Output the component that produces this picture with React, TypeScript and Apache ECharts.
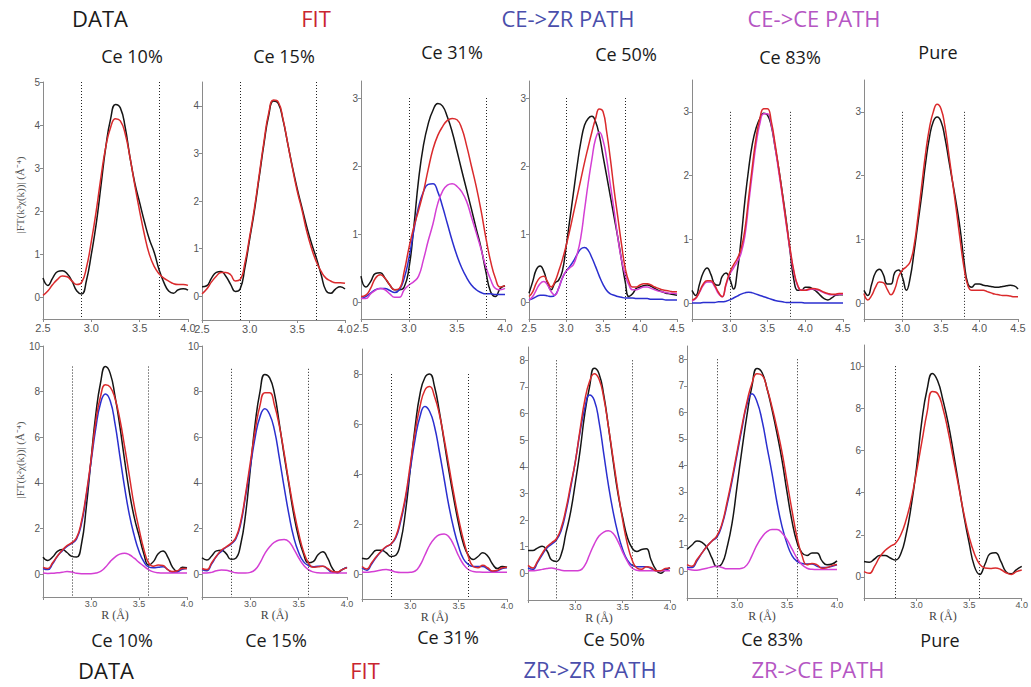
import React, { useEffect, useRef } from "react";
import * as echarts from "echarts";

// ---------- x grids (R, Å) ----------
const R_TO_40 = [2.50, 2.55, 2.60, 2.65, 2.70, 2.75, 2.80, 2.85, 2.90, 2.95, 3.00, 3.05, 3.10, 3.15, 3.20, 3.25, 3.30, 3.35, 3.40, 3.45, 3.50, 3.55, 3.60, 3.65, 3.70, 3.75, 3.80, 3.85, 3.90, 3.95, 4.00];
const R_TO_45 = [2.50, 2.55, 2.60, 2.65, 2.70, 2.75, 2.80, 2.85, 2.90, 2.95, 3.00, 3.05, 3.10, 3.15, 3.20, 3.25, 3.30, 3.35, 3.40, 3.45, 3.50, 3.55, 3.60, 3.65, 3.70, 3.75, 3.80, 3.85, 3.90, 3.95, 4.00, 4.05, 4.10, 4.15, 4.20, 4.25, 4.30, 4.35, 4.40, 4.45, 4.50];

// ---------- top row: Ce K-edge (k3) ----------
const CE10_DATA = [0.45, 0.28, 0.45, 0.6, 0.62, 0.55, 0.38, 0.15, 0.08, 0.4, 1.0, 1.7, 2.6, 3.5, 4.15, 4.48, 4.4, 3.95, 3.25, 2.65, 2.2, 1.75, 1.35, 1.05, 0.65, 0.35, 0.15, 0.1, 0.18, 0.2, 0.17];
const CE10_FIT = [0.05, 0.15, 0.3, 0.42, 0.5, 0.48, 0.38, 0.3, 0.35, 0.7, 1.3, 2.0, 2.8, 3.5, 3.95, 4.15, 4.1, 3.8, 3.25, 2.6, 2.0, 1.45, 1.0, 0.72, 0.55, 0.45, 0.38, 0.32, 0.3, 0.3, 0.28];

const CE15_DATA = [0.2, 0.22, 0.38, 0.5, 0.52, 0.42, 0.25, 0.1, 0.15, 0.6, 1.2, 1.8, 2.5, 3.2, 3.8, 4.1, 4.05, 3.7, 3.2, 2.7, 2.25, 1.85, 1.45, 1.1, 0.8, 0.45, 0.12, 0.06, 0.15, 0.2, 0.15];
const CE15_FIT = [0.05, 0.15, 0.3, 0.42, 0.5, 0.5, 0.45, 0.32, 0.35, 0.7, 1.25, 1.85, 2.55, 3.25, 3.85, 4.12, 4.08, 3.72, 3.2, 2.68, 2.2, 1.8, 1.35, 1.0, 0.72, 0.52, 0.38, 0.32, 0.28, 0.28, 0.27];

const CE31_DATA = [0.38, 0.22, 0.3, 0.42, 0.43, 0.35, 0.25, 0.18, 0.18, 0.22, 0.5, 1.1, 1.8, 2.3, 2.62, 2.82, 2.92, 2.88, 2.72, 2.5, 2.22, 1.93, 1.65, 1.37, 1.08, 0.8, 0.45, 0.15, 0.08, 0.2, 0.24];
const CE31_FIT = [0.08, 0.1, 0.2, 0.35, 0.4, 0.35, 0.25, 0.18, 0.2, 0.45, 0.8, 1.1, 1.35, 1.62, 1.95, 2.25, 2.45, 2.58, 2.67, 2.7, 2.68, 2.55, 2.3, 2.0, 1.7, 1.35, 0.95, 0.6, 0.35, 0.22, 0.24];
const CE31_CEZR = [0.05, 0.08, 0.13, 0.18, 0.2, 0.2, 0.17, 0.14, 0.18, 0.35, 0.65, 1.05, 1.4, 1.62, 1.73, 1.74, 1.62, 1.4, 1.15, 0.9, 0.68, 0.5, 0.36, 0.25, 0.18, 0.14, 0.12, 0.12, 0.11, 0.11, 0.11];
const CE31_CECE = [0.05, 0.05, 0.12, 0.17, 0.2, 0.18, 0.12, 0.07, 0.07, 0.18, 0.25, 0.3, 0.38, 0.62, 0.9, 1.15, 1.45, 1.63, 1.72, 1.74, 1.7, 1.62, 1.48, 1.25, 1.02, 0.78, 0.52, 0.33, 0.2, 0.18, 0.2];

const CE50_DATA = [0.13, 0.3, 0.48, 0.53, 0.45, 0.28, 0.18, 0.28, 0.32, 0.45, 0.8, 1.2, 1.6, 2.0, 2.35, 2.6, 2.7, 2.73, 2.65, 2.45, 2.15, 1.85, 1.55, 1.25, 0.95, 0.62, 0.3, 0.08, 0.12, 0.2, 0.22, 0.24, 0.25, 0.23, 0.2, 0.17, 0.15, 0.13, 0.12, 0.11, 0.1];
const CE50_FIT = [0.08, 0.15, 0.28, 0.36, 0.38, 0.3, 0.22, 0.3, 0.45, 0.62, 0.82, 1.05, 1.3, 1.55, 1.8, 2.05, 2.28, 2.5, 2.7, 2.84, 2.8, 2.5, 2.1, 1.65, 1.25, 0.85, 0.5, 0.3, 0.22, 0.22, 0.25, 0.27, 0.27, 0.25, 0.22, 0.2, 0.18, 0.17, 0.16, 0.15, 0.15];
const CE50_CEZR = [0.03, 0.05, 0.08, 0.1, 0.1, 0.09, 0.08, 0.1, 0.2, 0.35, 0.45, 0.52, 0.6, 0.7, 0.78, 0.8, 0.76, 0.65, 0.52, 0.38, 0.26, 0.17, 0.12, 0.1, 0.08, 0.07, 0.06, 0.06, 0.06, 0.05, 0.05, 0.05, 0.05, 0.04, 0.04, 0.04, 0.04, 0.03, 0.03, 0.03, 0.03];
const CE50_CECE = [0.03, 0.08, 0.18, 0.27, 0.3, 0.25, 0.15, 0.1, 0.2, 0.35, 0.45, 0.5, 0.55, 0.7, 0.95, 1.35, 1.75, 2.1, 2.4, 2.5, 2.38, 2.1, 1.72, 1.35, 0.95, 0.62, 0.4, 0.25, 0.18, 0.18, 0.2, 0.22, 0.22, 0.2, 0.18, 0.16, 0.15, 0.14, 0.13, 0.13, 0.12];

const CE83_DATA = [0.2, 0.12, 0.3, 0.48, 0.55, 0.45, 0.3, 0.28, 0.42, 0.47, 0.38, 0.22, 0.5, 1.0, 1.6, 2.1, 2.5, 2.75, 2.9, 2.98, 2.95, 2.78, 2.45, 2.1, 1.7, 1.28, 0.8, 0.36, 0.2, 0.2, 0.25, 0.25, 0.22, 0.18, 0.12, 0.07, 0.05, 0.08, 0.12, 0.13, 0.13];
const CE83_FIT = [0.05, 0.08, 0.18, 0.3, 0.35, 0.35, 0.28, 0.17, 0.1, 0.3, 0.48, 0.6, 0.7, 0.85, 1.15, 1.65, 2.15, 2.6, 2.9, 3.05, 3.05, 2.85, 2.5, 2.1, 1.68, 1.25, 0.85, 0.5, 0.28, 0.2, 0.2, 0.22, 0.23, 0.22, 0.2, 0.17, 0.15, 0.14, 0.14, 0.15, 0.15];
const CE83_CEZR = [0, 0, 0, 0.01, 0.01, 0.01, 0.01, 0.02, 0.02, 0.03, 0.05, 0.08, 0.11, 0.14, 0.16, 0.17, 0.16, 0.14, 0.12, 0.1, 0.08, 0.06, 0.04, 0.03, 0.02, 0.01, 0.01, 0.01, 0.01, 0.01, 0, 0, 0, 0, 0, 0, 0, 0, 0, 0, 0];
const CE83_CECE = [0.03, 0.07, 0.17, 0.28, 0.33, 0.33, 0.26, 0.15, 0.1, 0.28, 0.45, 0.55, 0.65, 0.78, 1.05, 1.55, 2.05, 2.5, 2.82, 2.97, 2.97, 2.8, 2.45, 2.05, 1.65, 1.22, 0.82, 0.48, 0.27, 0.2, 0.2, 0.21, 0.22, 0.21, 0.19, 0.16, 0.14, 0.13, 0.13, 0.14, 0.14];

const CEPURE_DATA = [0.2, 0.12, 0.3, 0.48, 0.53, 0.45, 0.3, 0.3, 0.48, 0.52, 0.4, 0.2, 0.4, 0.8, 1.25, 1.7, 2.2, 2.6, 2.85, 2.92, 2.85, 2.6, 2.25, 1.9, 1.55, 1.15, 0.65, 0.3, 0.25, 0.3, 0.3, 0.28, 0.27, 0.26, 0.25, 0.25, 0.26, 0.27, 0.28, 0.27, 0.22];
const CEPURE_FIT = [0.15, 0.05, 0.12, 0.25, 0.33, 0.32, 0.22, 0.13, 0.22, 0.42, 0.52, 0.57, 0.65, 0.9, 1.35, 1.85, 2.35, 2.75, 3.0, 3.12, 3.05, 2.78, 2.35, 1.9, 1.45, 0.98, 0.55, 0.27, 0.2, 0.2, 0.2, 0.2, 0.18, 0.16, 0.14, 0.13, 0.12, 0.12, 0.11, 0.1, 0.1];

// ---------- bottom row: Zr K-edge (k2) ----------
const ZR10_DATA = [0.75, 0.6, 0.75, 1.0, 1.08, 0.95, 0.78, 0.75, 1.3, 2.9, 5.0, 7.0, 8.4, 9.1, 8.8, 7.8, 6.5, 5.0, 3.6, 2.5, 1.7, 0.9, 0.4, 0.55, 0.9, 1.02, 0.75, 0.3, 0.12, 0.3, 0.28];
const ZR10_FIT = [0.3, 0.25, 0.5, 0.8, 1.05, 1.25, 1.38, 1.6, 2.3, 3.5, 5.0, 6.7, 7.8, 8.3, 8.2, 7.7, 6.8, 5.6, 4.3, 3.0, 2.0, 1.1, 0.5, 0.35, 0.4, 0.38, 0.2, 0.12, 0.15, 0.25, 0.25];
const ZR10_ZRZR = [0.25, 0.2, 0.45, 0.78, 1.02, 1.22, 1.35, 1.55, 2.2, 3.4, 4.9, 6.4, 7.5, 7.9, 7.6, 6.6, 5.2, 3.8, 2.6, 1.7, 1.0, 0.55, 0.32, 0.28, 0.3, 0.33, 0.2, 0.08, 0.1, 0.22, 0.25];
const ZR10_ZRCE = [0.05, 0.03, 0.04, 0.06, 0.08, 0.12, 0.1, 0.04, 0.02, 0.02, 0.02, 0.05, 0.12, 0.3, 0.55, 0.75, 0.88, 0.92, 0.85, 0.7, 0.52, 0.35, 0.2, 0.1, 0.06, 0.05, 0.05, 0.05, 0.05, 0.05, 0.05];

const ZR15_DATA = [0.72, 0.62, 0.8, 1.02, 1.05, 0.9, 0.65, 0.7, 1.3, 2.6, 4.6, 6.6, 8.0, 8.75, 8.6, 7.9, 6.6, 5.2, 3.9, 2.6, 1.6, 0.9, 0.5, 0.55, 0.85, 0.98, 0.7, 0.25, 0.05, 0.2, 0.3];
const ZR15_FIT = [0.25, 0.2, 0.5, 0.8, 1.05, 1.2, 1.35, 1.6, 2.3, 3.5, 4.9, 6.3, 7.4, 7.95, 7.95, 7.4, 6.5, 5.3, 4.0, 2.8, 1.8, 1.0, 0.5, 0.3, 0.32, 0.35, 0.25, 0.12, 0.1, 0.2, 0.28];
const ZR15_ZRZR = [0.2, 0.15, 0.45, 0.78, 1.0, 1.18, 1.32, 1.55, 2.2, 3.4, 4.7, 6.0, 6.9, 7.25, 7.0, 6.3, 5.1, 3.8, 2.6, 1.6, 0.95, 0.55, 0.38, 0.33, 0.35, 0.35, 0.22, 0.08, 0.08, 0.2, 0.3];
const ZR15_ZRCE = [0.05, 0.05, 0.08, 0.15, 0.18, 0.17, 0.12, 0.06, 0.05, 0.05, 0.08, 0.2, 0.5, 0.9, 1.2, 1.4, 1.5, 1.52, 1.42, 1.1, 0.72, 0.4, 0.2, 0.1, 0.06, 0.05, 0.05, 0.05, 0.05, 0.05, 0.05];

const ZR31_DATA = [0.63, 0.6, 0.78, 0.95, 0.95, 0.85, 0.7, 0.75, 1.3, 2.5, 4.2, 5.9, 7.2, 7.85, 8.0, 7.5, 6.5, 5.3, 4.1, 3.0, 2.0, 1.2, 0.75, 0.58, 0.7, 0.85, 0.72, 0.4, 0.22, 0.3, 0.27];
const ZR31_FIT = [0.3, 0.2, 0.45, 0.7, 0.92, 1.1, 1.2, 1.5, 2.2, 3.1, 4.4, 5.7, 6.7, 7.35, 7.5, 7.1, 6.4, 5.4, 4.3, 3.2, 2.2, 1.35, 0.7, 0.3, 0.25, 0.35, 0.25, 0.12, 0.15, 0.25, 0.27];
const ZR31_ZRZR = [0.25, 0.15, 0.4, 0.68, 0.9, 1.08, 1.2, 1.45, 2.1, 3.0, 4.2, 5.4, 6.3, 6.7, 6.5, 5.9, 4.9, 3.8, 2.7, 1.8, 1.1, 0.6, 0.38, 0.3, 0.3, 0.3, 0.2, 0.1, 0.12, 0.22, 0.25];
const ZR31_ZRCE = [0.08, 0.07, 0.09, 0.12, 0.16, 0.18, 0.14, 0.08, 0.06, 0.06, 0.07, 0.12, 0.35, 0.75, 1.15, 1.42, 1.57, 1.6, 1.48, 1.15, 0.72, 0.38, 0.18, 0.1, 0.08, 0.07, 0.07, 0.07, 0.07, 0.07, 0.07];

const ZR50_DATA = [0.86, 0.86, 0.95, 1.02, 0.85, 0.5, 0.45, 0.7, 1.5, 2.3, 3.4, 4.6, 6.0, 7.0, 7.7, 7.5, 6.7, 5.5, 4.2, 3.0, 2.1, 1.35, 0.95, 0.82, 0.9, 0.92, 0.5, 0.15, 0.0, 0.12, 0.2];
const ZR50_FIT = [0.3, 0.2, 0.45, 0.75, 1.0, 1.15, 1.3, 1.7, 2.4, 3.3, 4.2, 5.4, 6.5, 7.2, 7.5, 7.3, 6.6, 5.5, 4.3, 3.1, 2.0, 1.1, 0.5, 0.2, 0.15, 0.25, 0.22, 0.1, 0.1, 0.18, 0.2];
const ZR50_ZRZR = [0.2, 0.15, 0.4, 0.7, 0.95, 1.1, 1.25, 1.6, 2.3, 3.2, 4.2, 5.3, 6.2, 6.7, 6.5, 5.7, 4.5, 3.3, 2.3, 1.5, 0.9, 0.5, 0.3, 0.25, 0.25, 0.25, 0.18, 0.1, 0.1, 0.15, 0.2];
const ZR50_ZRCE = [0.1, 0.1, 0.12, 0.15, 0.18, 0.2, 0.16, 0.12, 0.1, 0.1, 0.1, 0.12, 0.3, 0.7, 1.1, 1.4, 1.55, 1.6, 1.5, 1.2, 0.8, 0.45, 0.2, 0.12, 0.1, 0.1, 0.1, 0.1, 0.1, 0.1, 0.1];

const ZR83_DATA = [0.83, 1.0, 1.15, 1.1, 0.9, 0.5, 0.18, 0.3, 0.9, 1.8, 3.2, 4.6, 5.9, 7.0, 7.65, 7.5, 6.9, 6.1, 5.2, 4.2, 3.0, 1.9, 1.1, 0.7, 0.6, 0.7, 0.7, 0.4, 0.25, 0.28, 0.4];
const ZR83_FIT = [0.26, 0.2, 0.45, 0.7, 0.95, 1.15, 1.35, 1.8, 2.6, 3.5, 4.5, 5.5, 6.4, 7.1, 7.45, 7.4, 6.9, 6.2, 5.4, 4.5, 3.4, 2.3, 1.3, 0.6, 0.25, 0.3, 0.25, 0.12, 0.15, 0.22, 0.26];
const ZR83_ZRZR = [0.15, 0.15, 0.4, 0.7, 0.95, 1.15, 1.3, 1.75, 2.5, 3.4, 4.4, 5.4, 6.3, 6.7, 6.4, 5.7, 4.7, 3.7, 2.6, 1.7, 1.05, 0.6, 0.38, 0.3, 0.28, 0.28, 0.2, 0.15, 0.15, 0.2, 0.25];
const ZR83_ZRCE = [0.1, 0.06, 0.05, 0.08, 0.12, 0.17, 0.2, 0.15, 0.1, 0.1, 0.1, 0.12, 0.25, 0.6, 1.0, 1.3, 1.5, 1.58, 1.58, 1.45, 1.2, 0.85, 0.5, 0.25, 0.12, 0.08, 0.07, 0.07, 0.07, 0.07, 0.07];

const ZRPURE_DATA = [0.73, 0.7, 0.85, 1.02, 1.02, 0.9, 0.8, 1.1, 2.0, 3.4, 5.2, 7.4, 8.9, 9.65, 9.3, 8.4, 7.3, 5.9, 4.4, 2.9, 1.6, 0.5, 0.12, 0.6, 1.1, 1.15, 0.75, 0.25, 0.15, 0.35, 0.5];
const ZRPURE_FIT = [0.25, 0.17, 0.5, 0.95, 1.25, 1.45, 1.6, 2.0, 2.7, 3.7, 5.0, 6.4, 7.8, 8.8, 8.7, 8.0, 6.9, 5.6, 4.3, 3.0, 1.9, 1.1, 0.6, 0.42, 0.4, 0.42, 0.35, 0.2, 0.12, 0.25, 0.33];

// ---------- tick values / labels ----------
const X_TICKS_40 = [2.5, 3.0, 3.5, 4.0];
const X_TICKS_45 = [2.5, 3.0, 3.5, 4.0, 4.5];
const X_LABELS_45_NO_FIRST = [3.0, 3.5, 4.0, 4.5];
const X_LABELS_BOTTOM = [3.0, 3.5, 4.0];
const Y_TICKS_0_5 = [0, 1, 2, 3, 4, 5];
const Y_TICKS_0_4 = [0, 1, 2, 3, 4];
const Y_TICKS_0_3 = [0, 1, 2, 3];
const Y_TICKS_0_10 = [0, 2, 4, 6, 8, 10];
const Y_TICKS_0_8_BY2 = [0, 2, 4, 6, 8];
const Y_TICKS_0_8_BY1 = [0, 1, 2, 3, 4, 5, 6, 7, 8];

// fitting window limits
const WIN_CE_LOW = [2.9, 3.7];
const WIN_CE_HIGH = [3.0, 3.8];
const WIN_ZR = [2.8, 3.6];

const SAMPLES = ["Ce 10%", "Ce 15%", "Ce 31%", "Ce 50%", "Ce 83%", "Pure"];
const TOP_LEGEND = ["DATA", "FIT", "CE->ZR PATH", "CE->CE PATH"];
const BOTTOM_LEGEND = ["DATA", "FIT", "ZR->ZR PATH", "ZR->CE PATH"];
const Y_NAME_TOP = "|FT(k³χ(k))| (Å⁻⁴)";
const Y_NAME_BOTTOM = "|FT(k²χ(k))| (Å⁻⁴)";
const X_NAME = "R (Å)";

// ---------- panels ----------
const PANELS = [
  { r: R_TO_40, curves: [CE10_DATA, null, null, CE10_FIT], y: [-0.5, 5], yTicks: Y_TICKS_0_5, xTicks: X_TICKS_40, xLabels: X_TICKS_40, win: WIN_CE_LOW, winTop: 5, xMax: 4.0 },
  { r: R_TO_40, curves: [CE15_DATA, null, null, CE15_FIT], y: [-0.5, 4.5], yTicks: Y_TICKS_0_4, xTicks: X_TICKS_40, xLabels: X_TICKS_40, win: WIN_CE_LOW, winTop: 4.5, xMax: 4.0 },
  { r: R_TO_40, curves: [CE31_DATA, CE31_CEZR, CE31_CECE, CE31_FIT], y: [-0.25, 3.25], yTicks: Y_TICKS_0_3, xTicks: X_TICKS_40, xLabels: X_TICKS_40, win: WIN_CE_HIGH, winTop: 3, xMax: 4.0 },
  { r: R_TO_45, curves: [CE50_DATA, CE50_CEZR, CE50_CECE, CE50_FIT], y: [-0.25, 3.25], yTicks: Y_TICKS_0_3, xTicks: X_TICKS_45, xLabels: X_TICKS_45, win: WIN_CE_HIGH, winTop: 3, xMax: 4.5 },
  { r: R_TO_45, curves: [CE83_DATA, CE83_CEZR, CE83_CECE, CE83_FIT], y: [-0.25, 3.5], yTicks: Y_TICKS_0_3, xTicks: X_TICKS_45, xLabels: X_LABELS_45_NO_FIRST, win: WIN_CE_HIGH, winTop: 3, xMax: 4.5 },
  { r: R_TO_45, curves: [CEPURE_DATA, null, null, CEPURE_FIT], y: [-0.25, 3.5], yTicks: Y_TICKS_0_3, xTicks: X_TICKS_45, xLabels: X_LABELS_45_NO_FIRST, win: WIN_CE_HIGH, winTop: 3, xMax: 4.5 },
  { r: R_TO_40, curves: [ZR10_DATA, ZR10_ZRZR, ZR10_ZRCE, ZR10_FIT], y: [-1, 10], yTicks: Y_TICKS_0_10, xTicks: X_TICKS_40, xLabels: X_LABELS_BOTTOM, win: WIN_ZR, winTop: 9.1, xMax: 4.0 },
  { r: R_TO_40, curves: [ZR15_DATA, ZR15_ZRZR, ZR15_ZRCE, ZR15_FIT], y: [-1, 10], yTicks: Y_TICKS_0_10, xTicks: X_TICKS_40, xLabels: X_LABELS_BOTTOM, win: WIN_ZR, winTop: 9.0, xMax: 4.0 },
  { r: R_TO_40, curves: [ZR31_DATA, ZR31_ZRZR, ZR31_ZRCE, ZR31_FIT], y: [-1, 9], yTicks: Y_TICKS_0_8_BY2, xTicks: X_TICKS_40, xLabels: X_LABELS_BOTTOM, win: WIN_ZR, winTop: 8, xMax: 4.0 },
  { r: R_TO_40, curves: [ZR50_DATA, ZR50_ZRZR, ZR50_ZRCE, ZR50_FIT], y: [-1, 8.5], yTicks: Y_TICKS_0_8_BY1, xTicks: X_TICKS_40, xLabels: X_LABELS_BOTTOM, win: WIN_ZR, winTop: 8, xMax: 4.0 },
  { r: R_TO_40, curves: [ZR83_DATA, ZR83_ZRZR, ZR83_ZRCE, ZR83_FIT], y: [-1, 8.5], yTicks: Y_TICKS_0_8_BY1, xTicks: X_TICKS_40, xLabels: X_LABELS_BOTTOM, win: WIN_ZR, winTop: 8, xMax: 4.0 },
  { r: R_TO_40, curves: [ZRPURE_DATA, null, null, ZRPURE_FIT], y: [-1, 11], yTicks: Y_TICKS_0_10, xTicks: X_TICKS_40, xLabels: X_LABELS_BOTTOM, win: WIN_ZR, winTop: 10, xMax: 4.0 },
];

// plot boxes: [left, top, right, bottom] in px
const BOXES = [
  [43, 82, 188, 319], [202, 82, 345, 320], [361, 81, 505, 319], [529, 81, 677, 319], [692, 80, 843, 319], [864, 80, 1018, 319],
  [43, 346, 187, 597], [202, 346, 347, 597], [362, 349, 507, 599], [528, 347, 670, 600], [687, 346, 837, 598], [864, 345, 1023, 598],
];

const COLORS = ["#151515", "#2b2fcf", "#d43fd4", "#da2a2c"]; // data, path1, path2, fit
const LEGEND_COLORS = ["#1a1a1a", "#c9252f", "#4a4eab", "#b556c3"];
const TITLE_FONT = '"Open Sans", "Noto Sans", sans-serif';

const TOP_LEGEND_POS = [[100, 18], [316, 18], [568, 18], [814, 18]];
const TOP_SAMPLE_POS = [[132, 56], [284, 56], [452, 52], [626, 54], [790, 57], [938, 52]];
const BOTTOM_SAMPLE_POS = [[122, 640], [276, 640], [448, 637], [614, 639], [772, 639], [940, 640]];
const BOTTOM_LEGEND_POS = [[106, 670], [365, 670], [590, 669], [818, 669]];

function buildOption() {
  const grid: any[] = [];
  const xAxis: any[] = [];
  const yAxis: any[] = [];
  const series: any[] = [];

  PANELS.forEach((p, i) => {
    const [l, t, r, b] = BOXES[i];
    const bottomRow = i >= 6;
    grid.push({ left: l, top: t, width: r - l, height: b - t, containLabel: false });
    xAxis.push({
      type: "value",
      gridIndex: i,
      min: 2.5,
      max: p.xMax,
      name: bottomRow ? X_NAME : "",
      nameLocation: "middle",
      nameGap: 4,
      nameTextStyle: { fontFamily: '"Liberation Serif", serif', fontSize: 12, color: "#444", verticalAlign: "top" },
      axisLine: { onZero: false, lineStyle: { color: "#8a8a8a", width: 1 } },
      axisTick: { show: true, customValues: p.xTicks, length: 3, lineStyle: { color: "#8a8a8a" } },
      axisLabel: {
        customValues: p.xLabels,
        formatter: (v: number) => v.toFixed(1),
        color: "#555",
        fontSize: bottomRow ? 9 : 11,
        fontFamily: '"Liberation Sans", Arial, sans-serif',
        margin: bottomRow ? 2 : 3,
      },
      splitLine: { show: false },
    });
    yAxis.push({
      type: "value",
      gridIndex: i,
      min: p.y[0],
      max: p.y[1],
      axisLine: { show: true, onZero: false, lineStyle: { color: "#8a8a8a", width: 1 } },
      axisTick: { show: true, customValues: p.yTicks, length: 3, lineStyle: { color: "#8a8a8a" } },
      axisLabel: {
        customValues: p.yTicks,
        color: "#555",
        fontSize: 10,
        fontFamily: '"Liberation Sans", Arial, sans-serif',
        margin: 3,
      },
      splitLine: { show: false },
    });

    p.curves.forEach((vals, k) => {
      if (!vals) return;
      const s: any = {
        type: "line",
        xAxisIndex: i,
        yAxisIndex: i,
        data: p.r.map((x, j) => [x, vals[j]]),
        smooth: 0.5,
        showSymbol: false,
        symbol: "none",
        lineStyle: { color: COLORS[k], width: 1.5 },
        z: k === 0 ? 3 : k === 3 ? 5 : 4,
        silent: true,
      };
      if (k === 0) {
        s.markLine = {
          silent: true,
          symbol: ["none", "none"],
          label: { show: false },
          lineStyle: { type: [1, 2], color: "#222", width: 1 },
          data: p.win.map((w) => [{ coord: [w, p.winTop] }, { coord: [w, p.y[0]] }]),
        };
      }
      series.push(s);
    });
  });

  const texts: any[] = [];
  const addText = (text: string, x: number, y: number, fill: string, size: number) =>
    texts.push({
      type: "text",
      x,
      y,
      style: { text, fill, font: `${size}px ${TITLE_FONT}`, textAlign: "center", textVerticalAlign: "middle" },
    });
  TOP_LEGEND.forEach((t, i) => addText(t, TOP_LEGEND_POS[i][0], TOP_LEGEND_POS[i][1], LEGEND_COLORS[i], 22));
  BOTTOM_LEGEND.forEach((t, i) => addText(t, BOTTOM_LEGEND_POS[i][0], BOTTOM_LEGEND_POS[i][1], LEGEND_COLORS[i], 22));
  SAMPLES.forEach((t, i) => addText(t, TOP_SAMPLE_POS[i][0], TOP_SAMPLE_POS[i][1], "#1a1a1a", 18));
  SAMPLES.forEach((t, i) => addText(t, BOTTOM_SAMPLE_POS[i][0], BOTTOM_SAMPLE_POS[i][1], "#1a1a1a", 18));
  [[Y_NAME_TOP, 195], [Y_NAME_BOTTOM, 460]].forEach(([t, y]) =>
    texts.push({
      type: "text",
      x: 20,
      y: y as number,
      rotation: Math.PI / 2,
      style: { text: t as string, fill: "#555", font: '11px "Liberation Serif", serif', textAlign: "center", textVerticalAlign: "middle" },
    })
  );

  return {
    animation: false,
    backgroundColor: "#ffffff",
    grid,
    xAxis,
    yAxis,
    series,
    graphic: texts,
  };
}

export default function App() {
  const ref = useRef<HTMLDivElement>(null);
  useEffect(() => {
    if (!ref.current) return;
    const chart = echarts.init(ref.current, undefined, { renderer: "svg" });
    chart.setOption(buildOption());
    return () => chart.dispose();
  }, []);
  return <div ref={ref} style={{ position: "absolute", left: 0, top: 0, width: 1031, height: 687 }} />;
}
